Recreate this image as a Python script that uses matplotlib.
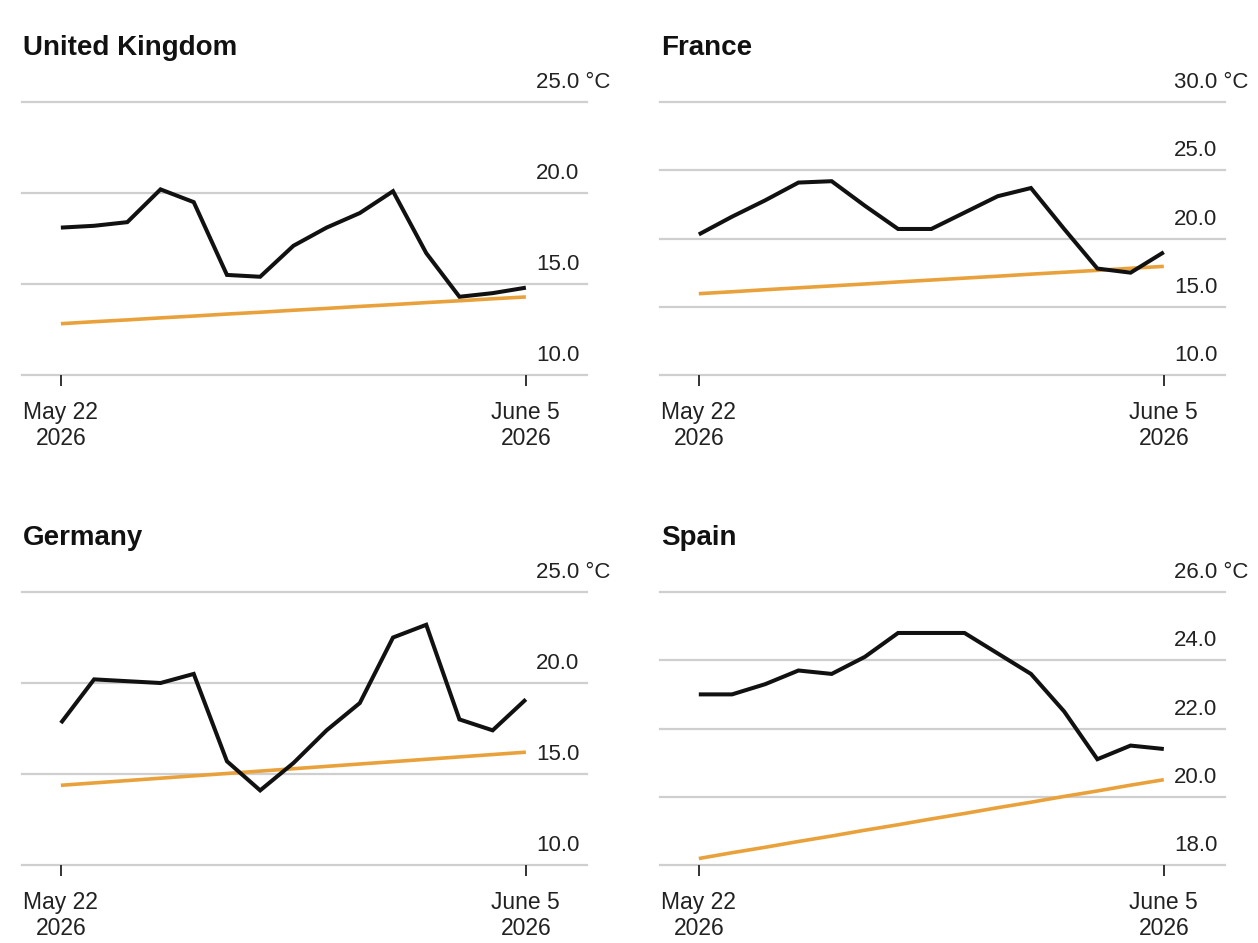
import matplotlib.pyplot as plt

plt.rcParams['font.family'] = ['Liberation Sans', 'DejaVu Sans']

# Daily temperatures, May 22 - June 5 2026
days = list(range(15))

uk_temp = [18.1, 18.2, 18.4, 20.2, 19.5, 15.5, 15.4, 17.1, 18.1, 18.9, 20.1, 16.7, 14.3, 14.5, 14.8]
uk_normal = [12.82, 12.93, 13.03, 13.14, 13.24, 13.35, 13.45, 13.56, 13.66, 13.77, 13.87, 13.98, 14.08, 14.19, 14.29]

france_temp = [20.3, 21.6, 22.8, 24.1, 24.2, 22.4, 20.7, 20.7, 21.9, 23.1, 23.7, 20.7, 17.8, 17.5, 19.0]
france_normal = [15.96, 16.10, 16.25, 16.39, 16.53, 16.67, 16.82, 16.96, 17.10, 17.24, 17.39, 17.53, 17.67, 17.82, 17.96]

germany_temp = [17.8, 20.2, 20.1, 20.0, 20.5, 15.7, 14.1, 15.6, 17.4, 18.9, 22.5, 23.2, 18.0, 17.4, 19.1]
germany_normal = [14.38, 14.51, 14.64, 14.77, 14.90, 15.03, 15.16, 15.29, 15.42, 15.55, 15.68, 15.81, 15.94, 16.07, 16.20]

spain_temp = [23.0, 23.0, 23.3, 23.7, 23.6, 24.1, 24.8, 24.8, 24.8, 24.2, 23.6, 22.5, 21.1, 21.5, 21.4]
spain_normal = [18.19, 18.36, 18.52, 18.69, 18.85, 19.02, 19.18, 19.35, 19.51, 19.68, 19.84, 20.01, 20.17, 20.34, 20.50]

uk_ticks = [10, 15, 20, 25]
france_ticks = [10, 15, 20, 25, 30]
germany_ticks = [10, 15, 20, 25]
spain_ticks = [18, 20, 22, 24, 26]

x_tick_labels = ['May 22\n2026', 'June 5\n2026']

panels = [
    ('United Kingdom', uk_temp, uk_normal, uk_ticks),
    ('France', france_temp, france_normal, france_ticks),
    ('Germany', germany_temp, germany_normal, germany_ticks),
    ('Spain', spain_temp, spain_normal, spain_ticks),
]

# axes rectangles in figure fraction
lefts = [0.0175, 0.5246]
bottoms = [0.6023, 0.0827]
width, height = 0.4491, 0.2895

BLACK = '#111111'
ORANGE = '#E9A23B'
GRID = '#cfcfcf'
TEXT = '#222222'

fig = plt.figure(figsize=(12.58, 9.43), dpi=100)

for i, (name, temp, normal, ticks) in enumerate(panels):
    ax = fig.add_axes([lefts[i % 2], bottoms[i // 2], width, height])

    for t in ticks:
        ax.axhline(t, color=GRID, lw=1.6, zorder=0, clip_on=False)

    ax.plot(days, normal, color=ORANGE, lw=2.6, solid_capstyle='butt', zorder=2)
    ax.plot(days, temp, color=BLACK, lw=2.9, solid_joinstyle='miter',
            solid_capstyle='butt', zorder=3)

    ax.set_xlim(-1.17, 15.84)
    ax.set_ylim(ticks[0], ticks[-1])

    for s in ax.spines.values():
        s.set_visible(False)

    ax.set_yticks([])
    ax.set_xticks([days[0], days[-1]])
    ax.set_xticklabels(x_tick_labels, fontsize=16.5, color=TEXT, linespacing=1.15)
    ax.tick_params(axis='x', length=8, width=1.4, color='#333333', pad=11)

    # value labels sit above their gridlines at the right
    for j, t in enumerate(ticks):
        label = f'{t:.1f}'
        if j == len(ticks) - 1:
            label += ' °C'
        ax.annotate(label, xy=(0.91, t), xycoords=('axes fraction', 'data'),
                    xytext=(0, 10), textcoords='offset points',
                    ha='left', va='baseline', fontsize=16, color=TEXT,
                    annotation_clip=False)

    ax.annotate(name, xy=(0, 1), xycoords='axes fraction',
                xytext=(0.5, 34), textcoords='offset points',
                ha='left', va='baseline', fontsize=20, fontweight='bold',
                color=BLACK)

fig.savefig('out.png', dpi=100, facecolor='white')
